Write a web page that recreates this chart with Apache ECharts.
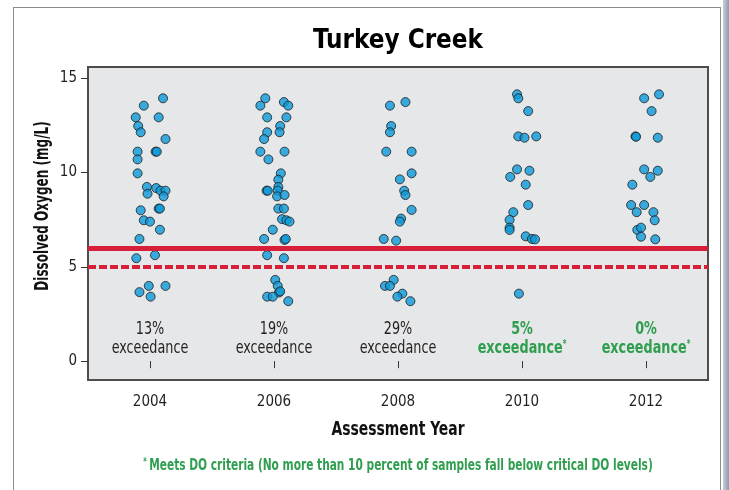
<!DOCTYPE html>
<html><head><meta charset="utf-8">
<script src="https://cdn.jsdelivr.net/npm/echarts@6/dist/echarts.min.js"></script>
<style>
html,body{margin:0;padding:0;background:#fff;}
#frame{position:absolute;left:13px;top:7px;width:708px;height:500px;border:1px solid #8c8c8c;box-sizing:border-box;}
#shade{position:absolute;left:723px;top:0;width:6px;height:490px;background:linear-gradient(to right,#c9ced6,#8d9bb0);}
#chart{position:absolute;left:0;top:0;width:729px;height:490px;}
</style></head>
<body>
<div id="frame"></div><div id="shade"></div>
<div id="chart"></div>
<script>
const years = [2004, 2006, 2008, 2010, 2012];
const yTicks = [0, 5, 10, 15];
const exceedance = ['13%', '19%', '29%', '5%', '0%'];
const meetsCriteria = [false, false, false, true, true];
const criticalDO = 5;
const targetDO = 6;
// [jittered x position, dissolved oxygen mg/L]
const do2004 = [[2004.21,13.94],[2003.90,13.55],[2003.77,12.93],[2004.14,12.93],[2003.81,12.47],[2003.85,12.14],[2004.25,11.78],[2003.80,11.11],[2004.09,11.11],[2004.11,11.11],[2003.80,10.70],[2003.80,9.96],[2003.95,9.24],[2004.10,9.18],[2004.17,9.04],[2004.25,9.04],[2003.96,8.88],[2004.22,8.74],[2003.85,8.00],[2004.14,8.09],[2004.16,8.09],[2003.90,7.47],[2004.00,7.40],[2004.16,6.97],[2003.83,6.48],[2004.08,5.62],[2003.78,5.46],[2003.98,3.99],[2004.25,3.99],[2003.83,3.66],[2004.01,3.42]];
const do2006 = [[2005.86,13.94],[2005.78,13.55],[2006.16,13.74],[2006.23,13.55],[2005.89,12.93],[2006.20,12.93],[2006.10,12.47],[2005.89,12.14],[2006.09,12.14],[2005.84,11.78],[2005.78,11.11],[2006.17,11.11],[2005.91,10.70],[2006.11,9.96],[2006.07,9.62],[2006.07,9.24],[2005.88,9.04],[2005.90,9.04],[2006.06,9.05],[2006.05,8.74],[2006.17,8.81],[2006.07,8.09],[2006.16,8.09],[2006.13,7.53],[2006.20,7.47],[2006.25,7.40],[2005.98,6.97],[2005.84,6.48],[2006.17,6.43],[2006.19,6.48],[2005.89,5.62],[2006.16,5.46],[2006.02,4.31],[2006.06,3.99],[2006.08,3.64],[2006.10,3.70],[2005.89,3.42],[2005.98,3.42],[2006.23,3.18]];
const do2008 = [[2007.87,13.55],[2008.12,13.74],[2007.89,12.47],[2007.87,12.14],[2007.81,11.11],[2008.22,11.11],[2008.22,9.96],[2008.03,9.64],[2008.10,9.04],[2008.12,8.81],[2008.22,8.02],[2008.05,7.56],[2008.03,7.40],[2007.77,6.48],[2007.97,6.39],[2007.93,4.31],[2007.79,3.99],[2007.87,3.99],[2008.07,3.58],[2007.99,3.42],[2008.20,3.18]];
const do2010 = [[2009.92,14.15],[2009.94,13.94],[2010.10,13.26],[2009.94,11.92],[2010.04,11.85],[2010.23,11.92],[2009.92,10.17],[2010.12,10.10],[2009.81,9.77],[2010.06,9.36],[2010.10,8.28],[2009.86,7.90],[2009.80,7.49],[2009.80,7.08],[2009.80,6.96],[2010.06,6.62],[2010.16,6.48],[2010.21,6.46],[2009.95,3.58]];
const do2012 = [[2011.97,13.94],[2012.21,14.15],[2012.09,13.26],[2011.83,11.92],[2011.84,11.90],[2012.19,11.85],[2011.97,10.17],[2012.19,10.10],[2012.07,9.77],[2011.78,9.36],[2011.76,8.28],[2011.97,8.28],[2011.85,7.90],[2012.12,7.90],[2012.14,7.47],[2011.86,6.96],[2011.92,7.08],[2011.92,6.60],[2012.15,6.46]];
const labelY = 1.16;

const FONT = '"DejaVu Sans Condensed", "Liberation Sans Narrow", sans-serif';
const GREEN = '#2f9e4f';
const RED = '#d71f3a';

const pointStyle = {color: '#0c9ad8', borderColor: '#1b1b1b', borderWidth: 1};
const groups = [do2004, do2006, do2008, do2010, do2012];
const series = groups.map((g, i) => ({
  type: 'scatter', name: String(years[i]), data: g, symbolSize: 9,
  itemStyle: pointStyle, z: 3
}));
series[0].markLine = {
  silent: true, symbol: 'none', label: {show: false}, z: 5,
  data: [
    {yAxis: targetDO, lineStyle: {color: RED, width: 5, type: 'solid'}},
    {yAxis: criticalDO, lineStyle: {color: RED, width: 4, type: [8, 3]}}
  ]
};

const chart = echarts.init(document.getElementById('chart'));
chart.setOption({
  animation: false,
  grid: {left: 88, right: 21, top: 67, bottom: 110, show: true, backgroundColor: '#e6e7e8', borderColor: '#4d4d4d', borderWidth: 2},
  xAxis: {
    type: 'value', min: 2003, max: 2013, interval: 1,
    axisLine: {show: false}, splitLine: {show: false},
    axisTick: {show: true, length: 7, lineStyle: {color: '#333'}, customValues: years},
    axisLabel: {fontFamily: FONT, fontSize: 15, color: '#231f20', margin: 15, customValues: years, formatter: v => String(v)}
  },
  yAxis: {
    type: 'value', min: -1, max: 15.6,
    axisLine: {show: false}, splitLine: {show: false},
    axisTick: {show: true, length: 7, lineStyle: {color: '#333'}, customValues: yTicks},
    axisLabel: {fontFamily: FONT, fontSize: 15, color: '#231f20', margin: 11, customValues: yTicks, formatter: v => String(v)}
  },
  series: series
});

const graphics = [
  {type: 'text', x: 398, y: 41, scaleX: 0.955, style: {text: 'Turkey Creek', fontFamily: FONT, fontWeight: 'bold', fontSize: 27, fill: '#000', align: 'center', verticalAlign: 'middle'}},
  {type: 'text', x: 398, y: 430, scaleX: 0.815, style: {text: 'Assessment Year', fontFamily: FONT, fontWeight: 'bold', fontSize: 19, fill: '#111', align: 'center', verticalAlign: 'middle'}},
  {type: 'text', x: 43, y: 206, rotation: Math.PI / 2, scaleX: 0.67, style: {text: 'Dissolved Oxygen (mg/L)', fontFamily: FONT, fontWeight: 'bold', fontSize: 20, fill: '#111', align: 'center', verticalAlign: 'middle'}},
  {type: 'text', x: 398, y: 466, scaleX: 0.737, style: {
    text: '{s|*} {t|Meets DO criteria (No more than 10 percent of samples fall below critical DO levels)}',
    align: 'center', verticalAlign: 'middle',
    rich: {
      s: {fontSize: 10, fill: GREEN, fontWeight: 'bold', verticalAlign: 'top', lineHeight: 17, fontFamily: FONT},
      t: {fontSize: 16, fill: GREEN, fontWeight: 'bold', lineHeight: 17, fontFamily: FONT}
    }
  }}
];
years.forEach((yr, i) => {
  const p = chart.convertToPixel({gridIndex: 0}, [yr, labelY]);
  const g = meetsCriteria[i];
  graphics.push({
    type: 'text', x: p[0], y: p[1], scaleX: 0.79, z: 10,
    style: {
      text: g ? `{g|${exceedance[i]}}\n{g|exceedance}{s|*}` : `{k|${exceedance[i]}}\n{k|exceedance}`,
      align: 'center', verticalAlign: 'middle',
      rich: {
        k: {fontSize: 18, fill: '#231f20', lineHeight: 19, fontFamily: FONT},
        g: {fontSize: 18, fill: GREEN, fontWeight: 'bold', lineHeight: 19, fontFamily: FONT},
        s: {fontSize: 10, fill: GREEN, fontWeight: 'bold', verticalAlign: 'top', lineHeight: 19, fontFamily: FONT}
      }
    }
  });
});
chart.setOption({graphic: graphics});
</script>
</body></html>
